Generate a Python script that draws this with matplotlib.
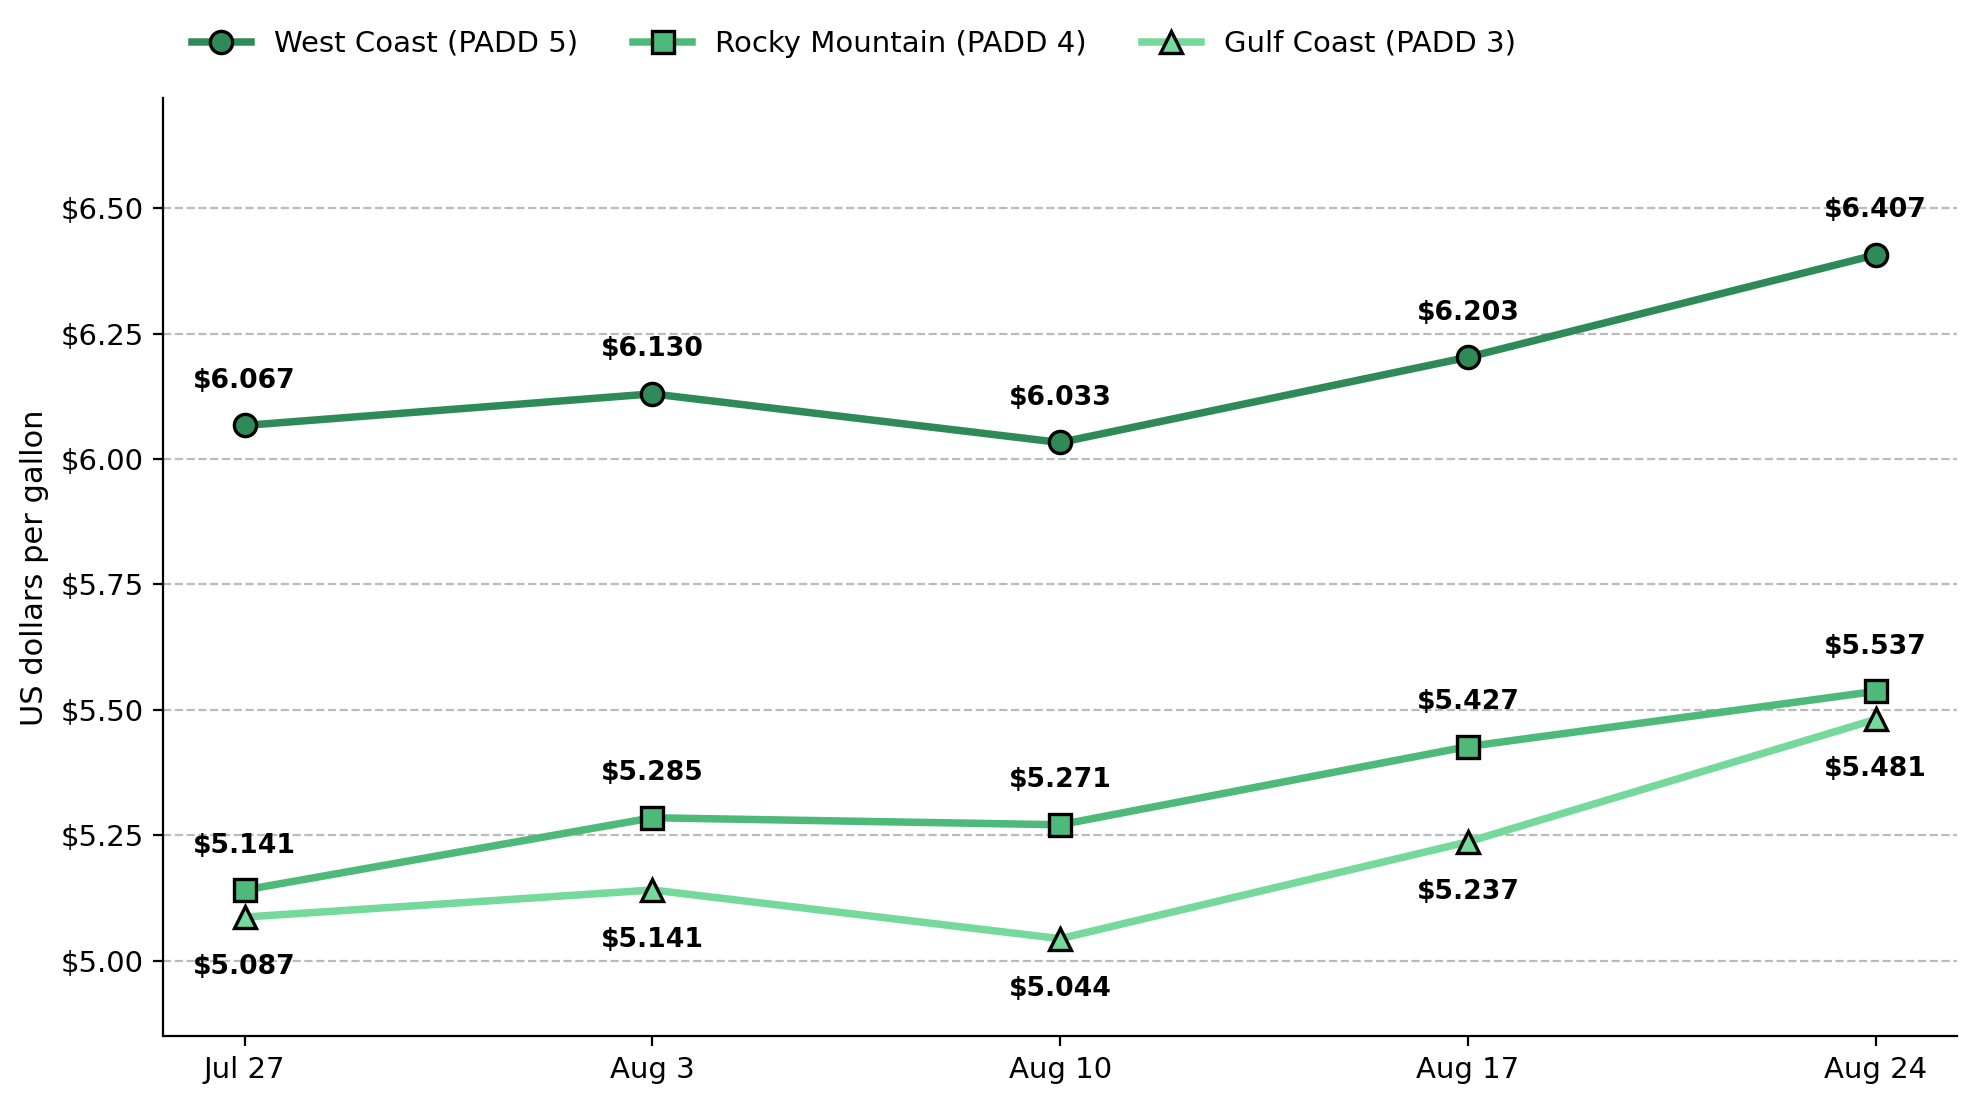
import matplotlib
matplotlib.use("Agg")
import matplotlib.pyplot as plt
from matplotlib.ticker import FuncFormatter

weeks = ["Jul 27", "Aug 3", "Aug 10", "Aug 17", "Aug 24"]
west_coast = [6.067, 6.130, 6.033, 6.203, 6.407]
rocky_mountain = [5.141, 5.285, 5.271, 5.427, 5.537]
gulf_coast = [5.087, 5.141, 5.044, 5.237, 5.481]

series = [
    ("West Coast (PADD 5)", west_coast, "#2E8B57", "o", 16),
    ("Rocky Mountain (PADD 4)", rocky_mountain, "#4DBA7A", "s", 16),
    ("Gulf Coast (PADD 3)", gulf_coast, "#74D99B", "^", -18),
]

fig, ax = plt.subplots(figsize=(9.885, 5.525), dpi=200)
fig.subplots_adjust(left=0.0825, right=0.990, top=0.911, bottom=0.062)

x = list(range(len(weeks)))
for label, vals, color, marker, off in series:
    ax.plot(x, vals, color=color, lw=2.7, marker=marker, markersize=8,
            markerfacecolor=color, markeredgecolor="black", markeredgewidth=1.2,
            label=label, zorder=3)
    for xi, v in zip(x, vals):
        ax.annotate(f"${v:.3f}", (xi, v), textcoords="offset points",
                    xytext=(0, off), ha="center", va="center",
                    fontsize=9.6, fontweight="bold", color="black")

ax.set_xticks(x)
ax.set_xticklabels(weeks, fontsize=10.5)
ax.set_xlim(-0.2, 4.2)
ax.set_ylim(4.849, 6.719)
ax.set_yticks([5.00, 5.25, 5.50, 5.75, 6.00, 6.25, 6.50])
ax.yaxis.set_major_formatter(FuncFormatter(lambda v, p: f"${v:.2f}"))
ax.tick_params(axis="y", labelsize=10.5)
ax.set_ylabel("US dollars per gallon", fontsize=11)
ax.grid(axis="y", linestyle="--", color="#bbbbbb", linewidth=0.8, zorder=0)
ax.spines["top"].set_visible(False)
ax.spines["right"].set_visible(False)

ax.legend(loc="lower left", bbox_to_anchor=(0.0, 1.012), ncol=3, frameon=False,
          fontsize=10.5, handlelength=2.0, columnspacing=1.9, borderaxespad=0.6)

fig.savefig("out.png", dpi=200)
